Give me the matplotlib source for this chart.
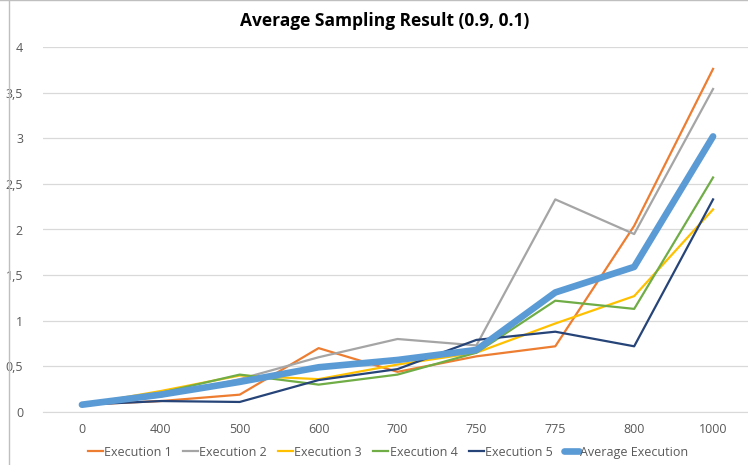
import matplotlib.pyplot as plt
from matplotlib.lines import Line2D
from matplotlib.ticker import FuncFormatter
from matplotlib import font_manager

# category labels on the x axis
sizes = ["0", "400", "500", "600", "700", "750", "775", "800", "1000"]

exec1 = [0.08, 0.12, 0.19, 0.70, 0.44, 0.61, 0.72, 2.04, 3.76]
exec2 = [0.08, 0.17, 0.36, 0.60, 0.80, 0.73, 2.33, 1.95, 3.54]
exec3 = [0.08, 0.23, 0.40, 0.36, 0.52, 0.65, 0.97, 1.27, 2.22]
exec4 = [0.08, 0.21, 0.41, 0.30, 0.41, 0.65, 1.22, 1.13, 2.57]
exec5 = [0.08, 0.12, 0.11, 0.35, 0.47, 0.79, 0.88, 0.72, 2.33]
average = [0.08, 0.19, 0.33, 0.49, 0.57, 0.68, 1.31, 1.59, 3.02]

series = [
    ("Execution 1", exec1, "#ED7D31"),
    ("Execution 2", exec2, "#A5A5A5"),
    ("Execution 3", exec3, "#FFC000"),
    ("Execution 4", exec4, "#70AD47"),
    ("Execution 5", exec5, "#264478"),
]

plt.rcParams['font.family'] = ['Open Sans', 'DejaVu Sans']

# narrow font for the legend, closer to Calibri
names = set(f.name for f in font_manager.fontManager.ttflist)
narrow = 'Liberation Sans Narrow' if 'Liberation Sans Narrow' in names else 'Open Sans'

fig = plt.figure(figsize=(7.48, 4.65), dpi=100)
ax = fig.add_axes([42.5 / 748, 53 / 465, 710 / 748, 365 / 465])

x = list(range(len(sizes)))
for name, vals, col in series:
    ax.plot(x, vals, color=col, lw=1.6, label=name, zorder=3)
ax.plot(x, average, color="#5B9BD5", lw=4.8, solid_capstyle="round",
        solid_joinstyle="round", label="Average Execution", zorder=4)

ax.set_xlim(-0.5, len(sizes) - 0.5)
ax.set_ylim(0, 4)
ax.set_xticks(x)
ax.set_xticklabels(sizes)
ax.set_yticks([0, 0.5, 1, 1.5, 2, 2.5, 3, 3.5, 4])
ax.yaxis.set_major_formatter(FuncFormatter(lambda v, p: ("%g" % v).replace(".", ",")))
ax.grid(axis="y", color="#D9D9D9", lw=0.9)
ax.set_axisbelow(True)
for s in ax.spines.values():
    s.set_visible(False)
ax.spines["bottom"].set_visible(True)
ax.spines["bottom"].set_color("#D9D9D9")
ax.tick_params(length=0, colors="#595959", labelsize=9)
ax.tick_params(axis="y", pad=14)
ax.tick_params(axis="x", pad=8)

fig.text(385 / 748, 1 - 21 / 465, "Average Sampling Result (0.9, 0.1)",
         ha="center", va="center", fontsize=12.5, fontweight="bold", color="black")

leg = fig.legend(loc="center", bbox_to_anchor=(388 / 748, 1 - 452 / 465), ncol=6,
                 frameon=False, prop={'family': narrow, 'size': 9},
                 handlelength=1.2, handletextpad=0.1, columnspacing=0.9)
for t in leg.get_texts():
    t.set_color("#595959")

# border lines from the original screenshot
fig.add_artist(Line2D([8.5 / 748, 8.5 / 748], [0, 1], color="#BFBFBF", lw=1))
fig.add_artist(Line2D([0, 1], [1 - 0.5 / 465, 1 - 0.5 / 465], color="#BFBFBF", lw=1))

fig.savefig("out.png", dpi=100)
